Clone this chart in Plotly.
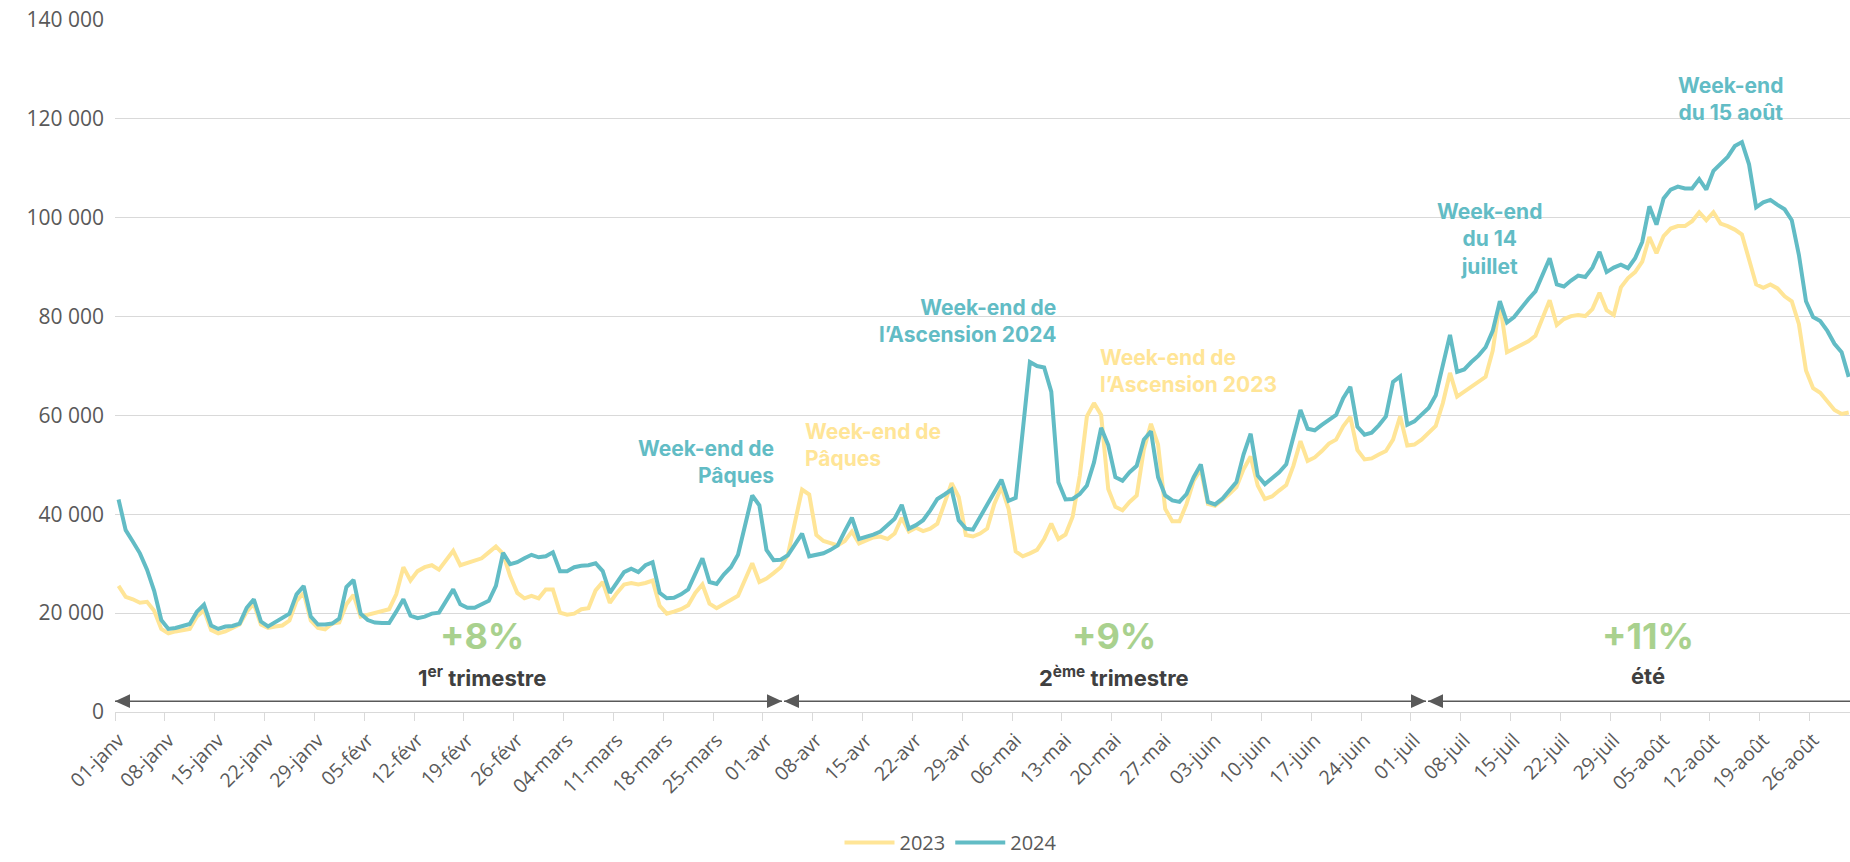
import plotly.graph_objects as go

# ---------------- data ----------------
x_labels = ["01-janv", "08-janv", "15-janv", "22-janv", "29-janv", "05-févr", "12-févr",
            "19-févr", "26-févr", "04-mars", "11-mars", "18-mars", "25-mars", "01-avr",
            "08-avr", "15-avr", "22-avr", "29-avr", "06-mai", "13-mai", "20-mai", "27-mai",
            "03-juin", "10-juin", "17-juin", "24-juin", "01-juil", "08-juil", "15-juil",
            "22-juil", "29-juil", "05-août", "12-août", "19-août", "26-août"]

y_tick_values = [0, 20000, 40000, 60000, 80000, 100000, 120000, 140000]
y_tick_labels = ["0", "20 000", "40 000", "60 000", "80 000", "100 000", "120 000", "140 000"]

visits_2023 = [
    25500, 23300, 22800, 22100, 22300, 20500, 16800, 15900, 16300, 16500,
    16800, 19300, 20600, 16600, 15900, 16300, 17000, 17700, 20300, 21900,
    17700, 17000, 17300, 17500, 18500, 22500, 24100, 18500, 17000, 16700,
    17900, 18100, 21800, 23700, 19300, 19700, 19900, 20500, 20800, 23800,
    29300, 26600, 28500, 29300, 29700, 28800, 30600, 32600, 29700, 30100,
    30600, 31100, 32300, 33500, 32000, 27500, 24100, 23000, 23500, 23000,
    24800, 24800, 20100, 19700, 19900, 20800, 21000, 24600, 26300, 22100,
    24100, 25800, 26100, 25800, 26100, 26600, 21500, 19900, 20300, 20800,
    21600, 24100, 25800, 21900, 21000, 21800, 22600, 23500, 26800, 30100,
    26300, 27000, 28100, 29300, 31800, 38500, 45000, 44000, 35800, 34600,
    34100, 33700, 34600, 36500, 34100, 34600, 35300, 35500, 35000, 36100,
    39300, 36500, 37300, 36600, 37100, 38100, 42500, 46300, 43500, 35800,
    35500, 36100, 37100, 42100, 45500, 41100, 32500, 31500, 32100, 32800,
    35000, 38100, 35000, 35900, 39500, 47800, 59800, 62500, 60100, 45100,
    41500, 40800, 42500, 43800, 53100, 58300, 54100, 41100, 38600, 38600,
    42100, 46800, 49100, 42100, 41700, 42800, 44100, 45500, 49100, 51700,
    45800, 43100, 43600, 44800, 45900, 49800, 54800, 50800, 51500, 52800,
    54300, 55100, 57800, 59700, 53000, 51100, 51300, 52100, 52800, 55100,
    59800, 53900, 54100, 55100, 56500, 57900, 62500, 68600, 63800, 64800,
    65800, 66800, 67800, 73100, 82800, 72800, 73500, 74100, 75000, 76100,
    79500, 83300, 78300, 79500, 80100, 80300, 80100, 81500, 84800, 81300,
    80300, 85900, 87800, 89000, 91100, 96100, 92800, 96300, 97800, 98300,
    98300, 99300, 101100, 99500, 101100, 98800, 98300, 97600, 96600, 91800,
    86500, 85800, 86500, 85700, 84100, 83100, 78500, 69100, 65500, 64600,
    62800, 61100, 60300, 60600,
]

visits_2024 = [
    43000, 36800, 34500, 32100, 28800, 24500, 18600, 16800, 17000, 17300,
    17800, 20300, 21700, 17500, 16800, 17300, 17400, 17900, 21100, 22800,
    18300, 17300, 18100, 18900, 19900, 23800, 25500, 19300, 17700, 17700,
    17900, 18900, 25300, 26700, 19900, 18600, 18100, 18000, 18000, 20300,
    22800, 19500, 19000, 19300, 19900, 20100, 22500, 24800, 21800, 21100,
    21100, 21700, 22500, 25500, 32200, 29900, 30300, 31100, 31800, 31300,
    31500, 32300, 28500, 28500, 29300, 29600, 29700, 30100, 28500, 24100,
    26100, 28300, 29000, 28300, 29700, 30300, 24100, 23000, 23100, 23800,
    24800, 28100, 31100, 26300, 25900, 27800, 29300, 31800, 38000, 43800,
    41800, 32800, 30700, 30800, 31700, 33800, 36100, 31500, 31800, 32100,
    32800, 33700, 36600, 39300, 35000, 35400, 35900, 36500, 37800, 39100,
    41900, 37100, 37800, 38800, 40800, 43100, 44000, 45000, 38800, 37100,
    36900, 39500, 42100, 44500, 47000, 42700, 43300, 57000, 70800, 70000,
    69700, 64800, 46500, 43000, 43100, 44100, 45800, 50500, 57500, 54000,
    47500, 46800, 48500, 49800, 55100, 56800, 47500, 43800, 42800, 42500,
    44100, 47500, 50100, 42500, 42000, 43100, 44800, 46500, 52100, 56300,
    47800, 46100, 47300, 48500, 50100, 55800, 61100, 57300, 57000, 58100,
    59100, 60100, 63500, 65800, 57700, 56100, 56500, 58000, 59800, 66800,
    67900, 58100, 58800, 60100, 61500, 64100, 70100, 76300, 68800, 69300,
    70800, 72100, 73800, 77100, 83100, 78800, 79900, 81800, 83500, 85100,
    88500, 91800, 86500, 86100, 87300, 88300, 88000, 89900, 93100, 89000,
    89900, 90500, 89800, 91800, 95100, 102300, 98600, 103900, 105700, 106300,
    105900, 105900, 107800, 105700, 109500, 110800, 112300, 114500, 115300, 110800,
    102100, 103100, 103600, 102600, 101700, 99500, 92500, 83100, 79900, 79100,
    77100, 74500, 72800, 67800,
]

days = list(range(len(visits_2024)))
label_days = list(range(0, 7 * len(x_labels), 7))

# ---------------- styling ----------------
C23 = "#FFE597"
C24 = "#62BCC5"
GREEN = "#A9D18E"
DARK = "#404040"
GREY = "#595959"
GRID = "#D9D9D9"

W, H = 1850, 862
PLOT_L, PLOT_R, PLOT_T, PLOT_B = 115, 1850, 20, 720
PX_PER_DAY = 7.12
X_MIN = -0.5
X_MAX = X_MIN + (PLOT_R - PLOT_L) / PX_PER_DAY


def X(px):
    return X_MIN + (px - PLOT_L) / PX_PER_DAY


def Y(py):
    return (PLOT_B - py) * 140000 / (PLOT_B - PLOT_T)


fig = go.Figure()
fig.add_trace(go.Scatter(x=days, y=visits_2023, name="2023", mode="lines",
                         line=dict(color=C23, width=4)))
fig.add_trace(go.Scatter(x=days, y=visits_2024, name="2024", mode="lines",
                         line=dict(color=C24, width=4)))

ann_font = dict(family="Inter", size=21, weight=700)
annotations = [
    dict(x=X(776), y=Y(467), text="Week-end de<br>Pâques", xanchor="right", align="right",
         font=dict(ann_font, color=C24)),
    dict(x=X(803), y=Y(450), text="Week-end de<br>Pâques", xanchor="left", align="left",
         font=dict(ann_font, color=C23)),
    dict(x=X(1058), y=Y(324), text="Week-end de<br>l’Ascension 2024", xanchor="right", align="right",
         font=dict(ann_font, color=C24)),
    dict(x=X(1098), y=Y(375), text="Week-end de<br>l’Ascension 2023", xanchor="left", align="left",
         font=dict(ann_font, color=C23)),
    dict(x=X(1489), y=Y(242), text="Week-end<br>du 14<br>juillet", xanchor="center", align="center",
         font=dict(ann_font, color=C24)),
    dict(x=X(1730), y=Y(100), text="Week-end<br>du 15 août", xanchor="center", align="center",
         font=dict(ann_font, color=C24)),
]
pct_font = dict(family="Inter", size=36, weight=700, color=GREEN)
per_font = dict(family="Inter", size=22, weight=700, color=DARK)
periods = [(482, "+8%", "1<sup>er</sup> trimestre"),
           (1114, "+9%", "2<sup>ème</sup> trimestre"),
           (1648, "+11%", "été")]
for cx, pct, lab in periods:
    annotations.append(dict(x=X(cx), y=Y(643), text=pct, xanchor="center", font=pct_font))
    annotations.append(dict(x=X(cx), y=Y(684), text=lab, xanchor="center", font=per_font))

for a in annotations:
    a.update(xref="x", yref="y", yanchor="middle", showarrow=False)

# period arrows drawn as shapes (line + triangular heads)
arrow_y = Y(709)
head_len = 15 / PX_PER_DAY
head_half = Y(709 - 7) - arrow_y
shapes = []
segments = [(X(PLOT_L), X(782), True, True),
            (X(784), X(1426), True, True),
            (X(1428), X_MAX + 2, True, False)]
for x0, x1, left_head, right_head in segments:
    shapes.append(dict(type="line", xref="x", yref="y", x0=x0, x1=x1, y0=arrow_y, y1=arrow_y,
                       line=dict(color=GREY, width=1.5), layer="above"))
    if left_head:
        path = (f"M{x0},{arrow_y} L{x0 + head_len},{arrow_y + head_half} "
                f"L{x0 + head_len},{arrow_y - head_half} Z")
        shapes.append(dict(type="path", xref="x", yref="y", path=path, fillcolor=GREY,
                           line=dict(width=0), layer="above"))
    if right_head:
        path = (f"M{x1},{arrow_y} L{x1 - head_len},{arrow_y + head_half} "
                f"L{x1 - head_len},{arrow_y - head_half} Z")
        shapes.append(dict(type="path", xref="x", yref="y", path=path, fillcolor=GREY,
                           line=dict(width=0), layer="above"))

fig.update_layout(
    width=W, height=H,
    margin=dict(l=PLOT_L, r=W - PLOT_R, t=PLOT_T, b=H - PLOT_B),
    paper_bgcolor="white", plot_bgcolor="white",
    font=dict(family="Open Sans", size=19, color=GREY),
    showlegend=True,
    legend=dict(orientation="h", x=(951 - PLOT_L) / (PLOT_R - PLOT_L), xanchor="center",
                y=-(852 - PLOT_B) / (PLOT_B - PLOT_T), yanchor="middle",
                font=dict(family="Open Sans", size=20, color=GREY), itemwidth=50),
    annotations=annotations,
    shapes=shapes,
    hovermode=False,
)
fig.update_xaxes(
    range=[X_MIN, X_MAX], tickmode="array", tickvals=label_days, ticktext=x_labels,
    tickangle=-45, ticks="", showgrid=False, zeroline=False,
    showline=True, linecolor=GRID, linewidth=1.3,
    tickfont=dict(family="Open Sans", size=19.5, color=GREY),
    ticklabelstandoff=8,
    minor=dict(tick0=-0.5, dtick=7, ticks="outside", ticklen=8, tickwidth=1.3,
               tickcolor=GRID, showgrid=False),
)
fig.update_yaxes(
    range=[0, 140000], tickmode="array", tickvals=y_tick_values, ticktext=y_tick_labels,
    showgrid=True, gridcolor=GRID, gridwidth=1.3, zeroline=False, showline=False,
    tickfont=dict(family="Open Sans", size=21, color=GREY), ticklabelstandoff=10,
)

fig.write_html("out.html", config={"displayModeBar": False},
               post_script="document.body.style.margin='0';")
